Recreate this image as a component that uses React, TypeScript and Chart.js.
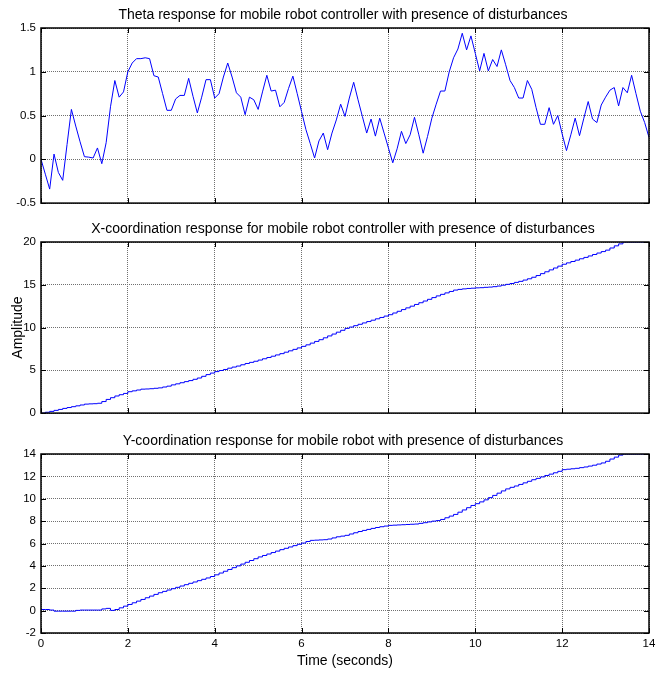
import { useEffect, useRef } from "react";
import { Chart, registerables } from "chart.js";

Chart.register(...registerables);

// Sampling period of the simulation (seconds)
const SAMPLE_PERIOD = 0.1;

const timeTicks = [0, 2, 4, 6, 8, 10, 12, 14];
const thetaTicks = [-0.5, 0, 0.5, 1, 1.5];
const xCoordTicks = [0, 5, 10, 15, 20];
const yCoordTicks = [-2, 0, 2, 4, 6, 8, 10, 12, 14];

// Heading angle theta (rad), one sample every 0.1 s
const thetaValues = [
  0, -0.17, -0.34, 0.06, -0.15, -0.24, 0.17, 0.57, 0.38, 0.2,
  0.03, 0.025, 0.015, 0.13, -0.05, 0.19, 0.6, 0.9, 0.71, 0.77,
  1.0, 1.1, 1.15, 1.15, 1.16, 1.15, 0.955, 0.94, 0.75, 0.56,
  0.56, 0.69, 0.73, 0.73, 0.925, 0.72, 0.53, 0.71, 0.91, 0.91,
  0.7, 0.75, 0.94, 1.1, 0.94, 0.76, 0.71, 0.51, 0.71, 0.68,
  0.57, 0.77, 0.96, 0.78, 0.79, 0.6, 0.65, 0.81, 0.95, 0.75,
  0.545, 0.34, 0.18, 0.015, 0.21, 0.3, 0.11, 0.3, 0.45, 0.63,
  0.49, 0.7, 0.88, 0.68, 0.49, 0.3, 0.46, 0.265, 0.47, 0.3,
  0.13, -0.04, 0.12, 0.32, 0.18, 0.28, 0.48, 0.28, 0.07, 0.26,
  0.47, 0.63, 0.78, 0.78, 1.0, 1.16, 1.26, 1.44, 1.25, 1.41,
  1.21, 1.01, 1.21, 1.01, 1.14, 1.06, 1.25, 1.08, 0.9, 0.82,
  0.7, 0.7, 0.9, 0.8, 0.59, 0.4, 0.4, 0.59, 0.4, 0.5,
  0.29, 0.1, 0.28, 0.47, 0.27, 0.47, 0.66, 0.46, 0.42, 0.62,
  0.71, 0.79, 0.82, 0.61, 0.82, 0.76, 0.96, 0.75, 0.55, 0.42,
  0.25,
];

// X position of the robot (held between samples)
const xCoordValues = [
  0, 0.1, 0.2, 0.32, 0.43, 0.55, 0.65, 0.75, 0.85, 0.95,
  1.05, 1.08, 1.1, 1.15, 1.35, 1.6, 1.8, 2.0, 2.15, 2.3,
  2.5, 2.6, 2.7, 2.8, 2.82, 2.85, 2.9, 2.95, 3.05, 3.15,
  3.3, 3.42, 3.55, 3.68, 3.8, 3.95, 4.1, 4.3, 4.5, 4.68,
  4.85, 4.98, 5.1, 5.25, 5.38, 5.5, 5.65, 5.8, 5.93, 6.06,
  6.2, 6.35, 6.5, 6.65, 6.8, 6.95, 7.12, 7.28, 7.45, 7.62,
  7.8, 7.98, 8.18, 8.38, 8.58, 8.8, 9.02, 9.24, 9.46, 9.68,
  9.9, 10.06, 10.22, 10.38, 10.54, 10.7, 10.86, 11.02, 11.18, 11.34,
  11.5, 11.7, 11.9, 12.1, 12.3, 12.5, 12.7, 12.9, 13.1, 13.3,
  13.5, 13.7, 13.88, 14.05, 14.22, 14.38, 14.46, 14.52, 14.57, 14.6,
  14.64, 14.66, 14.7, 14.73, 14.78, 14.85, 14.95, 15.05, 15.15, 15.28,
  15.4, 15.55, 15.7, 15.88, 16.08, 16.3, 16.52, 16.74, 16.96, 17.18,
  17.4, 17.56, 17.72, 17.88, 18.04, 18.2, 18.37, 18.54, 18.71, 18.88,
  19.05, 19.3, 19.55, 19.78, 20, 20, 20, 20, 20, 20,
  20,
];

// Y position of the robot (held between samples)
const yCoordValues = [
  0.1, 0.1, 0.05, -0.05, -0.05, -0.05, -0.05, -0.05, 0.02, 0.05,
  0.05, 0.05, 0.05, 0.05, 0.15, 0.2, 0.02, 0.1, 0.25, 0.4,
  0.55, 0.7, 0.85, 1.0, 1.15, 1.3, 1.45, 1.6, 1.72, 1.84,
  1.96, 2.08, 2.2, 2.32, 2.44, 2.56, 2.68, 2.8, 2.92, 3.05,
  3.2, 3.36, 3.52, 3.68, 3.84, 4.0, 4.16, 4.32, 4.48, 4.64,
  4.8, 4.93, 5.06, 5.19, 5.32, 5.45, 5.57, 5.69, 5.81, 5.93,
  6.04, 6.18, 6.28, 6.3, 6.32, 6.34, 6.4, 6.5, 6.6, 6.66,
  6.73, 6.85, 6.96, 7.07, 7.17, 7.26, 7.35, 7.43, 7.5, 7.56,
  7.62, 7.64, 7.66, 7.68, 7.7, 7.72, 7.74, 7.8, 7.86, 7.93,
  8.0, 8.05, 8.15, 8.3, 8.45, 8.6, 8.8, 9.0, 9.2, 9.4,
  9.56, 9.72, 9.9, 10.1, 10.3, 10.5, 10.7, 10.88, 11.02, 11.14,
  11.28, 11.42, 11.56, 11.7, 11.82, 11.95, 12.08, 12.2, 12.32, 12.45,
  12.6, 12.64, 12.68, 12.72, 12.78, 12.84, 12.92, 13.0, 13.1, 13.2,
  13.35, 13.55, 13.72, 13.9, 14, 14, 14, 14, 14, 14,
  14,
];

const FONT_FAMILY = '"Liberation Sans", Arial, Helvetica, sans-serif';
const LINE_BLUE = "#0000ff";
const GRID_GREY = "#707070";

type PanelSpec = {
  title: string;
  top: number;
  height: number;
  plotTop: number;
  xAxisHeight: number;
  padBottom: number;
  values: number[];
  yTicks: number[];
  yMin: number;
  yMax: number;
  stepped: boolean;
  showTimeLabels: boolean;
  yTitle?: string;
  xTitle?: string;
};

const panels: PanelSpec[] = [
  {
    title: "Theta response for mobile robot controller with presence of disturbances",
    top: 0,
    height: 215,
    plotTop: 28,
    xAxisHeight: 0,
    padBottom: 8,
    values: thetaValues,
    yTicks: thetaTicks,
    yMin: -0.5,
    yMax: 1.5,
    stepped: false,
    showTimeLabels: false,
  },
  {
    title: "X-coordination response for mobile robot controller with presence of disturbances",
    top: 215,
    height: 210,
    plotTop: 27,
    xAxisHeight: 0,
    padBottom: 6,
    values: xCoordValues,
    yTicks: xCoordTicks,
    yMin: 0,
    yMax: 20,
    stepped: true,
    showTimeLabels: false,
    yTitle: "Amplitude",
  },
  {
    title: "Y-coordination response for mobile robot with presence of disturbances",
    top: 425,
    height: 248,
    plotTop: 29,
    xAxisHeight: 40,
    padBottom: 0,
    values: yCoordValues,
    yTicks: yCoordTicks,
    yMin: -2,
    yMax: 14,
    stepped: true,
    showTimeLabels: true,
    xTitle: "Time (seconds)",
  },
];

// Box around the plot area, inward tick marks and the panel title
const makeFramePlugin = (title: string) => ({
  id: "frame",
  afterDraw(chart: any) {
    const { ctx, chartArea, scales } = chart;
    const { left, right, top, bottom } = chartArea;
    const tickLen = 5;
    ctx.save();
    ctx.strokeStyle = "#000";
    ctx.lineWidth = 1;
    ctx.beginPath();
    for (const t of scales.x.ticks) {
      const px = Math.round(scales.x.getPixelForValue(t.value)) + 0.5;
      ctx.moveTo(px, top);
      ctx.lineTo(px, top + tickLen);
      ctx.moveTo(px, bottom);
      ctx.lineTo(px, bottom - tickLen);
    }
    for (const t of scales.y.ticks) {
      const py = Math.round(scales.y.getPixelForValue(t.value)) + 0.5;
      ctx.moveTo(left, py);
      ctx.lineTo(left + tickLen, py);
      ctx.moveTo(right, py);
      ctx.lineTo(right - tickLen, py);
    }
    ctx.stroke();
    ctx.lineWidth = 1.5;
    ctx.strokeRect(left, top, right - left, bottom - top);
    ctx.fillStyle = "#000";
    ctx.font = `14px ${FONT_FAMILY}`;
    ctx.textAlign = "center";
    ctx.textBaseline = "alphabetic";
    ctx.fillText(title, 343, top - 9);
    ctx.restore();
  },
});

function buildConfig(spec: PanelSpec): any {
  const sampleTimes = spec.values.map((_, i) => Number((i * SAMPLE_PERIOD).toFixed(1)));
  const tickFont = { family: FONT_FAMILY, size: 11.5 };
  return {
    type: "line",
    data: {
      datasets: [
        {
          data: spec.values.map((v, i) => ({ x: sampleTimes[i], y: v })),
          borderColor: LINE_BLUE,
          borderWidth: 1,
          pointRadius: 0,
          tension: 0,
          fill: false,
          stepped: spec.stepped,
        },
      ],
    },
    options: {
      animation: false,
      responsive: false,
      maintainAspectRatio: false,
      devicePixelRatio: 1,
      events: [],
      layout: {
        padding: { left: 0, right: 23, top: spec.plotTop, bottom: spec.padBottom },
      },
      plugins: {
        legend: { display: false },
        tooltip: { enabled: false },
        title: { display: false },
      },
      scales: {
        x: {
          type: "linear",
          min: 0,
          max: 14,
          afterBuildTicks: (scale: any) => {
            scale.ticks = timeTicks.map((value) => ({ value }));
          },
          afterFit: (scale: any) => {
            scale.height = spec.xAxisHeight;
          },
          ticks: {
            display: spec.showTimeLabels,
            autoSkip: false,
            maxRotation: 0,
            padding: 4,
            color: "#000",
            font: tickFont,
            callback: (v: number) => String(v),
          },
          grid: { color: GRID_GREY, lineWidth: 1, drawTicks: false },
          border: { display: false, dash: [1, 1] },
          title: {
            display: !!spec.xTitle,
            text: spec.xTitle || "",
            color: "#000",
            font: { family: FONT_FAMILY, size: 14 },
            padding: { top: 0, bottom: 3 },
          },
        },
        y: {
          type: "linear",
          min: spec.yMin,
          max: spec.yMax,
          afterBuildTicks: (scale: any) => {
            scale.ticks = spec.yTicks.map((value) => ({ value }));
          },
          afterFit: (scale: any) => {
            scale.width = 41;
          },
          ticks: {
            autoSkip: false,
            padding: 5,
            color: "#000",
            font: tickFont,
            callback: (v: number) => String(v),
          },
          grid: { color: GRID_GREY, lineWidth: 1, drawTicks: false },
          border: { display: false, dash: [1, 1] },
          title: {
            display: !!spec.yTitle,
            text: spec.yTitle || "",
            color: "#000",
            font: { family: FONT_FAMILY, size: 14 },
            padding: { top: 10, bottom: 0 },
          },
        },
      },
    },
    plugins: [makeFramePlugin(spec.title)],
  };
}

function Panel({ spec }: { spec: PanelSpec }) {
  const canvasRef = useRef<HTMLCanvasElement>(null);
  useEffect(() => {
    if (!canvasRef.current) return;
    const chart = new Chart(canvasRef.current, buildConfig(spec));
    return () => chart.destroy();
  }, [spec]);
  return (
    <canvas
      ref={canvasRef}
      width={672}
      height={spec.height}
      style={{
        position: "absolute",
        left: 0,
        top: spec.top,
        width: 672,
        height: spec.height,
        display: "block",
      }}
    />
  );
}

export default function App() {
  return (
    <div
      style={{
        position: "fixed",
        left: 0,
        top: 0,
        width: 672,
        height: 673,
        background: "#ffffff",
        overflow: "hidden",
      }}
    >
      {panels.map((p) => (
        <Panel key={p.title} spec={p} />
      ))}
    </div>
  );
}
